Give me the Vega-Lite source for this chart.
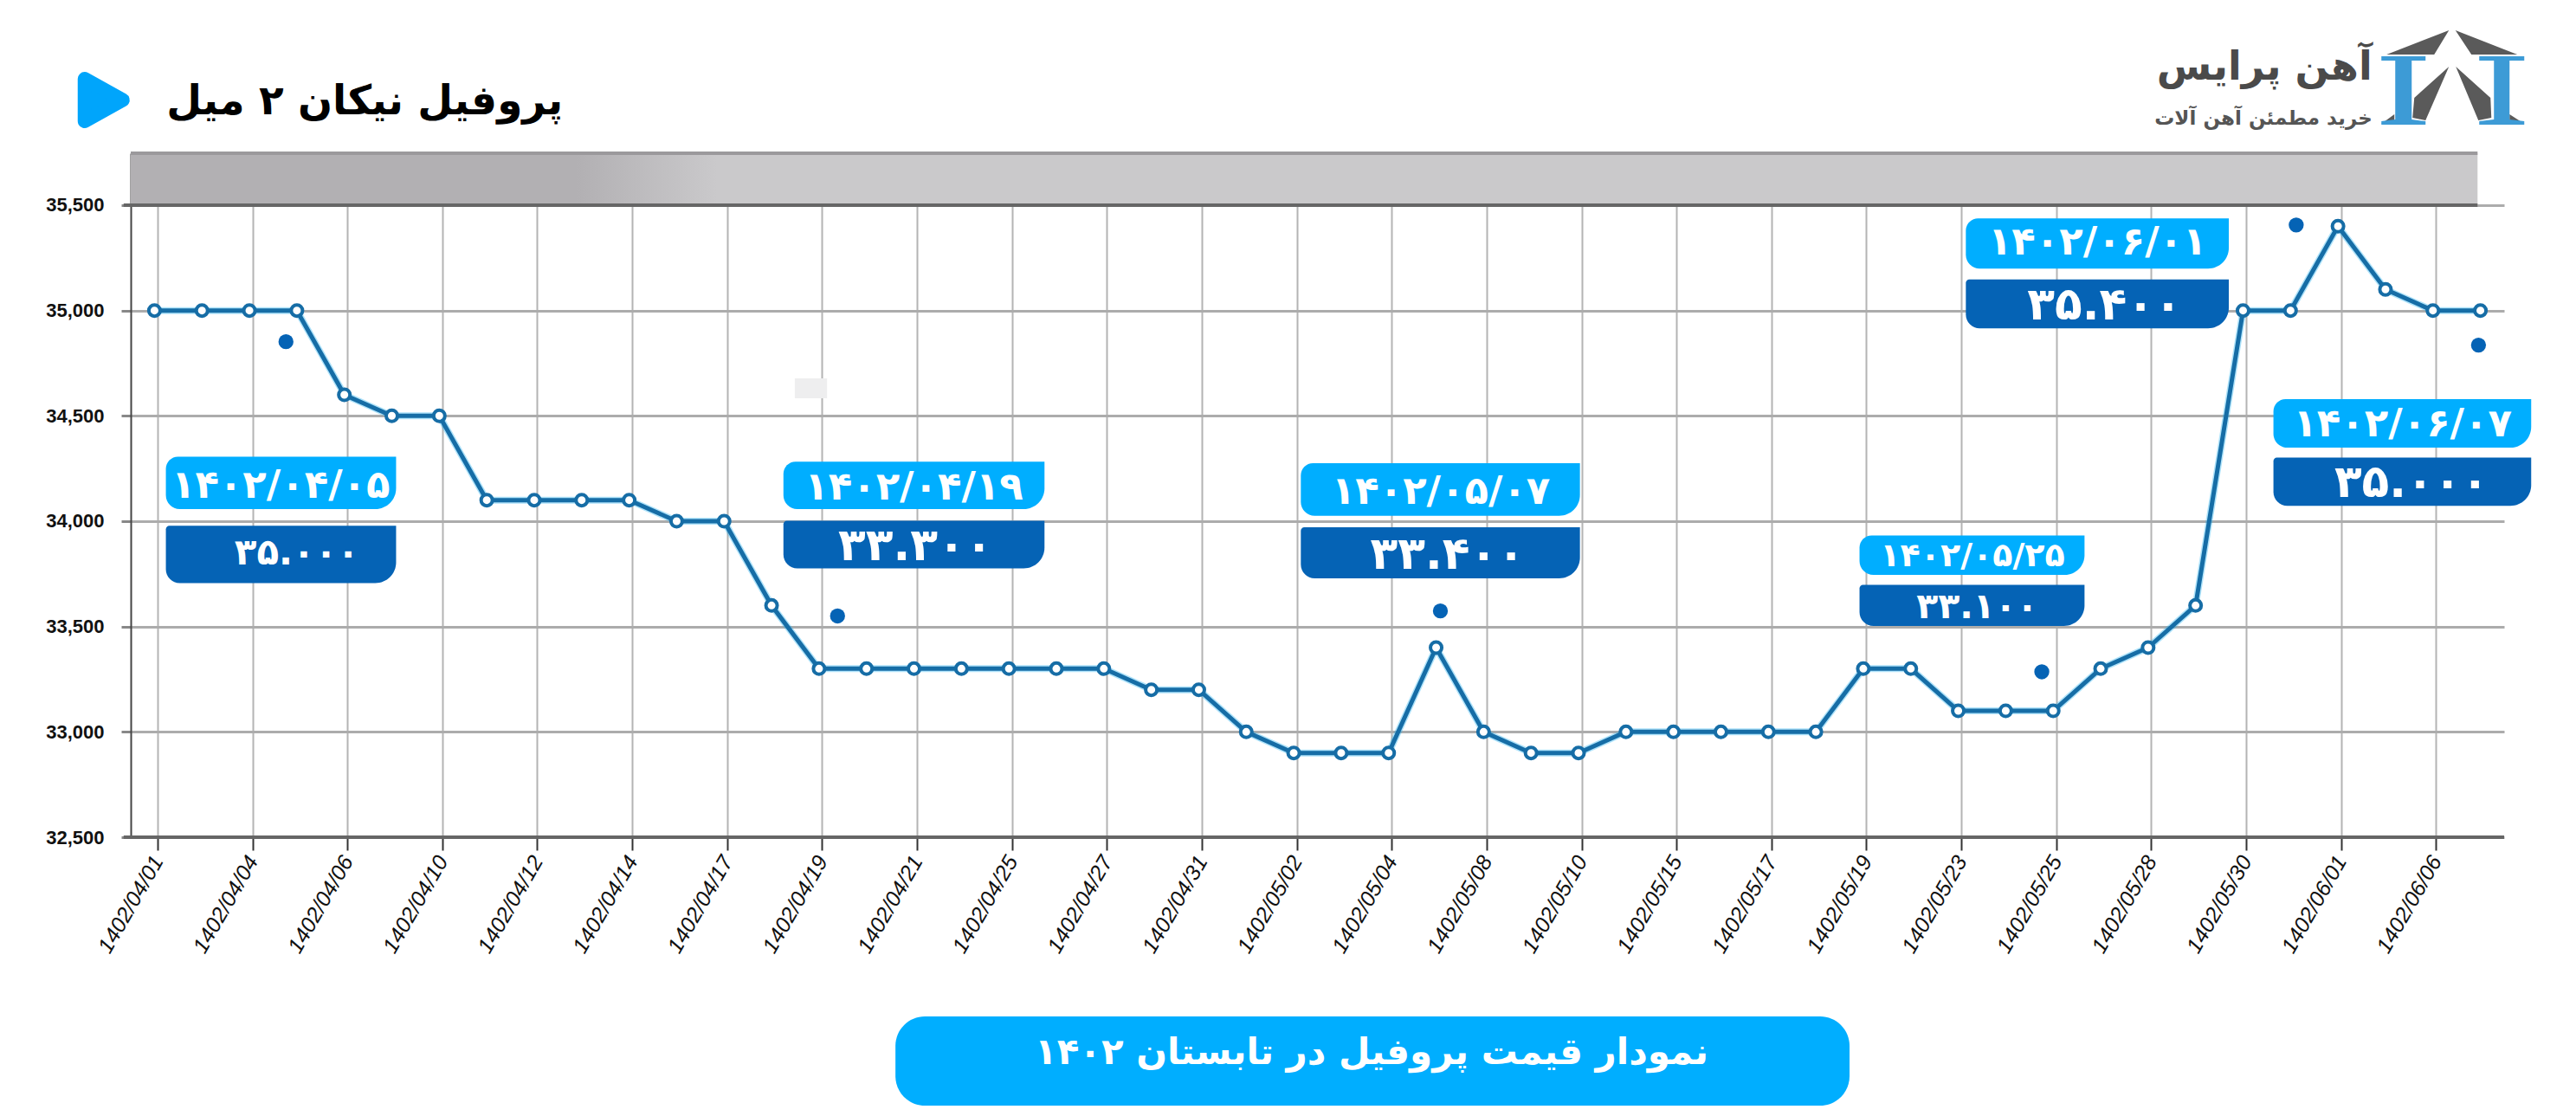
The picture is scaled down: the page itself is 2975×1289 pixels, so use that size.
{
"$schema":"https://vega.github.io/schema/vega-lite/v6.json",
"width":2741,"height":790,
"autosize":{"type":"none"},
"padding":{"left":151,"top":177,"right":83,"bottom":322},
"background":"#ffffff",
"config":{"view":{"stroke":null}},
"datasets":{
"prices":[
{"i":1,"date":"1402/04/01","price":35000},{"i":2,"date":"1402/04/03","price":35000},{"i":3,"date":"1402/04/04","price":35000},{"i":4,"date":"1402/04/05","price":35000},{"i":5,"date":"1402/04/06","price":34600},
{"i":6,"date":"1402/04/07","price":34500},{"i":7,"date":"1402/04/10","price":34500},{"i":8,"date":"1402/04/11","price":34100},{"i":9,"date":"1402/04/12","price":34100},{"i":10,"date":"1402/04/13","price":34100},
{"i":11,"date":"1402/04/14","price":34100},{"i":12,"date":"1402/04/15","price":34000},{"i":13,"date":"1402/04/17","price":34000},{"i":14,"date":"1402/04/18","price":33600},{"i":15,"date":"1402/04/19","price":33300},
{"i":16,"date":"1402/04/20","price":33300},{"i":17,"date":"1402/04/21","price":33300},{"i":18,"date":"1402/04/24","price":33300},{"i":19,"date":"1402/04/25","price":33300},{"i":20,"date":"1402/04/26","price":33300},
{"i":21,"date":"1402/04/27","price":33300},{"i":22,"date":"1402/04/28","price":33200},{"i":23,"date":"1402/04/31","price":33200},{"i":24,"date":"1402/05/01","price":33000},{"i":25,"date":"1402/05/02","price":32900},
{"i":26,"date":"1402/05/03","price":32900},{"i":27,"date":"1402/05/04","price":32900},{"i":28,"date":"1402/05/07","price":33400},{"i":29,"date":"1402/05/08","price":33000},{"i":30,"date":"1402/05/09","price":32900},
{"i":31,"date":"1402/05/10","price":32900},{"i":32,"date":"1402/05/14","price":33000},{"i":33,"date":"1402/05/15","price":33000},{"i":34,"date":"1402/05/16","price":33000},{"i":35,"date":"1402/05/17","price":33000},
{"i":36,"date":"1402/05/18","price":33000},{"i":37,"date":"1402/05/19","price":33300},{"i":38,"date":"1402/05/22","price":33300},{"i":39,"date":"1402/05/23","price":33100},{"i":40,"date":"1402/05/24","price":33100},
{"i":41,"date":"1402/05/25","price":33100},{"i":42,"date":"1402/05/26","price":33300},{"i":43,"date":"1402/05/28","price":33400},{"i":44,"date":"1402/05/29","price":33600},{"i":45,"date":"1402/05/30","price":35000},
{"i":46,"date":"1402/05/31","price":35000},{"i":47,"date":"1402/06/01","price":35400},{"i":48,"date":"1402/06/04","price":35100},{"i":49,"date":"1402/06/06","price":35000},{"i":50,"date":"1402/06/07","price":35000}
],
"callouts":[
{"name":"a","i0":1.24,"i1":6.09,"dtop":34306,"dbot":34057,"vtop":33978,"vbot":33706,"ic":3.66,"iv":4.0,"dc":34170,"vc":33848,"dateText":"۱۴۰۲/۰۴/۰۵","valueText":"۳۵.۰۰۰"},
{"name":"b","i0":14.25,"i1":19.75,"dtop":34283,"dbot":34057,"vtop":34002,"vbot":33776,"ic":17.0,"iv":17.03,"dc":34160,"vc":33880,"dateText":"۱۴۰۲/۰۴/۱۹","valueText":"۳۳.۳۰۰"},
{"name":"c","i0":25.15,"i1":31.03,"dtop":34275,"dbot":34026,"vtop":33971,"vbot":33729,"ic":28.1,"iv":28.24,"dc":34140,"vc":33840,"dateText":"۱۴۰۲/۰۵/۰۷","valueText":"۳۳.۴۰۰"},
{"name":"d","i0":36.92,"i1":41.66,"dtop":33932,"dbot":33745,"vtop":33698,"vbot":33503,"ic":39.3,"iv":39.4,"dc":33830,"vc":33590,"dateText":"۱۴۰۲/۰۵/۲۵","valueText":"۳۳.۱۰۰"},
{"name":"e","i0":39.16,"i1":44.70,"dtop":35437,"dbot":35199,"vtop":35148,"vbot":34915,"ic":41.93,"iv":42.08,"dc":35325,"vc":35025,"dateText":"۱۴۰۲/۰۶/۰۱","valueText":"۳۵.۴۰۰"},
{"name":"f","i0":45.64,"i1":51.07,"dtop":34579,"dbot":34349,"vtop":34302,"vbot":34073,"ic":48.36,"iv":48.55,"dc":34460,"vc":34180,"dateText":"۱۴۰۲/۰۶/۰۷","valueText":"۳۵.۰۰۰"}
],
"dots":[
{"i":3.77,"price":34852},{"i":15.39,"price":33550},{"i":28.09,"price":33574},{"i":40.76,"price":33285},{"i":46.12,"price":35406},{"i":49.96,"price":34836}
],
"frame":[{"i0":0.35,"i1":49.94,"price":35500},{"i0":0.35,"i1":50.5,"price":32500}]
},
"encoding":{
"x":{"type":"quantitative","scale":{"domain":[0.5,50.5],"nice":false,"zero":false},
"axis":{"title":null,"values":[1,3,5,7,9,11,13,15,17,19,21,23,25,27,29,31,33,35,37,39,41,43,45,47,49],
"labelExpr":"['1402/04/01','1402/04/04','1402/04/06','1402/04/10','1402/04/12','1402/04/14','1402/04/17','1402/04/19','1402/04/21','1402/04/25','1402/04/27','1402/04/31','1402/05/02','1402/05/04','1402/05/08','1402/05/10','1402/05/15','1402/05/17','1402/05/19','1402/05/23','1402/05/25','1402/05/28','1402/05/30','1402/06/01','1402/06/06'][(datum.value-1)/2]",
"labelAngle":-60,"labelAlign":"right","labelBaseline":"middle","labelFont":"Liberation Sans","labelFontStyle":"italic","labelFontSize":25,"labelColor":"#111111","labelPadding":8,"labelOverlap":false,"labelFlush":false,"labelBound":false,"tickOffset":3.5,"tickSize":15,"tickColor":"#333333","tickWidth":2,"grid":true,"gridColor":"#b4b4b4","gridWidth":2,"domain":false}},
"y":{"type":"quantitative","scale":{"domain":[32500,35746.5],"nice":false,"zero":false},
"axis":{"title":null,"values":[32500,33000,33500,34000,34500,35000,35500],"format":",.0f","labelFont":"Liberation Sans","labelFontWeight":"bold","labelFontSize":22,"labelColor":"#111111","labelPadding":20,"tickSize":11,"tickColor":"#888888","tickWidth":3,"grid":true,"gridColor":"#acacac","gridWidth":3,"domainColor":"#444444","domainWidth":2}}
},
"layer":[
{"data":{"name":"prices"},"mark":{"type":"line","color":"#1aaef0","strokeWidth":8,"opacity":0.35},
"encoding":{"x":{"field":"i"},"y":{"field":"price"}}},
{"data":{"values":[{"i0":0.5,"i1":49.94,"top":35746.5,"bottom":35500}]},
"mark":{"type":"rect","color":{"gradient":"linear","x1":0,"y1":0,"x2":1,"y2":0,"stops":[{"offset":0,"color":"#b2b0b3"},{"offset":0.19,"color":"#b2b0b3"},{"offset":0.25,"color":"#cac9cb"},{"offset":1,"color":"#cac9cb"}]}},
"encoding":{"x":{"field":"i0"},"x2":{"field":"i1"},"y":{"field":"top"},"y2":{"field":"bottom"}}},
{"data":{"values":[{"i0":0.5,"i1":49.94,"price":35746.5}]},"mark":{"type":"rule","color":"#9b999c","strokeWidth":4},
"encoding":{"x":{"field":"i0"},"x2":{"field":"i1"},"y":{"field":"price"}}},
{"data":{"name":"frame"},"mark":{"type":"rule","color":"#666666","strokeWidth":4},
"encoding":{"x":{"field":"i0"},"x2":{"field":"i1"},"y":{"field":"price"}}},
{"data":{"values":[{"i0":14.49,"i1":15.17,"top":34678,"bottom":34584}]},"mark":{"type":"rect","color":"#eeeeef"},
"encoding":{"x":{"field":"i0"},"x2":{"field":"i1"},"y":{"field":"top"},"y2":{"field":"bottom"}}},
{"data":{"name":"prices"},"mark":{"type":"line","color":"#166da6","strokeWidth":5},
"encoding":{"x":{"field":"i"},"y":{"field":"price"}}},
{"data":{"name":"prices"},"mark":{"type":"point","filled":true,"fill":"#ffffff","stroke":"#166da6","strokeWidth":4,"size":170,"opacity":1},
"encoding":{"x":{"field":"i"},"y":{"field":"price"}}},
{"data":{"name":"dots"},"mark":{"type":"point","filled":true,"fill":"#0563b5","size":300,"opacity":1},
"encoding":{"x":{"field":"i"},"y":{"field":"price"}}},
{"data":{"name":"callouts"},"mark":{"type":"rect","color":"#00aeff","cornerRadiusTopLeft":14,"cornerRadiusBottomLeft":16,"cornerRadiusBottomRight":24},
"encoding":{"x":{"field":"i0"},"x2":{"field":"i1"},"y":{"field":"dtop"},"y2":{"field":"dbot"}}},
{"data":{"name":"callouts"},"mark":{"type":"rect","color":"#0563b5","cornerRadiusTopLeft":4,"cornerRadiusBottomLeft":16,"cornerRadiusBottomRight":24},
"encoding":{"x":{"field":"i0"},"x2":{"field":"i1"},"y":{"field":"vtop"},"y2":{"field":"vbot"}}},
{"data":{"name":"callouts"},"transform":[{"filter":"datum.name!='d'"}],"mark":{"type":"text","font":"DejaVu Sans","fontWeight":"bold","fontSize":45,"color":"#ffffff","align":"center","baseline":"middle"},
"encoding":{"x":{"field":"ic"},"y":{"field":"dc"},"text":{"field":"dateText"}}},
{"data":{"name":"callouts"},"transform":[{"filter":"datum.name!='d' && datum.name!='a'"}],"mark":{"type":"text","font":"DejaVu Sans","fontWeight":"bold","fontSize":52,"color":"#ffffff","align":"center","baseline":"middle"},
"encoding":{"x":{"field":"iv"},"y":{"field":"vc"},"text":{"field":"valueText"}}},
{"data":{"name":"callouts"},"transform":[{"filter":"datum.name=='a'"}],"mark":{"type":"text","font":"DejaVu Sans","fontWeight":"bold","fontSize":42,"color":"#ffffff","align":"center","baseline":"middle"},
"encoding":{"x":{"field":"iv"},"y":{"field":"vc"},"text":{"field":"valueText"}}},
{"data":{"name":"callouts"},"transform":[{"filter":"datum.name=='d'"}],"mark":{"type":"text","font":"DejaVu Sans","fontWeight":"bold","fontSize":38,"color":"#ffffff","align":"center","baseline":"middle"},
"encoding":{"x":{"field":"ic"},"y":{"field":"dc"},"text":{"field":"dateText"}}},
{"data":{"name":"callouts"},"transform":[{"filter":"datum.name=='d'"}],"mark":{"type":"text","font":"DejaVu Sans","fontWeight":"bold","fontSize":41,"color":"#ffffff","align":"center","baseline":"middle"},
"encoding":{"x":{"field":"iv"},"y":{"field":"vc"},"text":{"field":"valueText"}}},
{"data":{"values":[{"i0":16.61,"i1":36.71,"top":31649,"bottom":31226}]},"mark":{"type":"rect","color":"#00aeff","cornerRadius":34},
"encoding":{"x":{"field":"i0"},"x2":{"field":"i1"},"y":{"field":"top"},"y2":{"field":"bottom"}}},
{"data":{"values":[{"i":26.64,"price":31477,"label":"نمودار قیمت پروفیل در تابستان ۱۴۰۲"}]},"mark":{"type":"text","font":"DejaVu Sans","fontWeight":"bold","fontSize":42,"color":"#ffffff","align":"center","baseline":"middle"},
"encoding":{"x":{"field":"i"},"y":{"field":"price"},"text":{"field":"label"}}},
{"data":{"values":[{"i":5.43,"price":35989,"label":"پروفیل نیکان ۲ میل"}]},"mark":{"type":"text","font":"DejaVu Sans","fontWeight":"bold","fontSize":47,"color":"#000000","align":"center","baseline":"middle"},
"encoding":{"x":{"field":"i"},"y":{"field":"price"},"text":{"field":"label"}}},
{"data":{"values":[{"i":-0.07,"price":36001}]},"mark":{"type":"point","filled":true,"shape":"M-22,-24L22,0.5L-22,25Z","size":4,"fill":"#00a5fb","stroke":"#00a5fb","strokeWidth":16,"strokeJoin":"round","opacity":1},
"encoding":{"x":{"field":"i"},"y":{"field":"price"}}},
{"data":{"values":[{"i":49.41,"price":36108}]},"mark":{"type":"point","filled":true,"shape":"M-4,-54L-76,-26L-21,-26ZM3.5,-54L75,-26L22,-26ZM-4,-12L-44,24L-46,47L-31,50ZM4,-12L44,24L45,47L30,50ZM-82,54L-67,43L-67,54ZM83,54L66,43L66,54Z","size":4,"fill":"#5a5a5a","opacity":1},
"encoding":{"x":{"field":"i"},"y":{"field":"price"}}},
{"data":{"values":[{"i":49.41,"price":36108}]},"mark":{"type":"point","filled":true,"shape":"M-82,-24L-31,-24L-31,-19L-47,-19L-47,49L-31,51L-31,55L-82,55L-82,51L-66,49L-66,-19L-82,-19ZM31,-24L83,-24L83,-19L66,-19L66,49L83,51L83,55L31,55L31,51L48,49L48,-19L31,-19Z","size":4,"fill":"#3d9bd6","opacity":1},
"encoding":{"x":{"field":"i"},"y":{"field":"price"}}},
{"data":{"values":[{"i":45.45,"price":36153,"label":"آهن پرایس"}]},"mark":{"type":"text","font":"DejaVu Sans","fontWeight":"bold","fontSize":46,"color":"#4a4a4a","align":"center","baseline":"middle"},
"encoding":{"x":{"field":"i"},"y":{"field":"price"},"text":{"field":"label"}}},
{"data":{"values":[{"i":45.43,"price":35911,"label":"خرید مطمئن آهن آلات"}]},"mark":{"type":"text","font":"DejaVu Sans","fontSize":23,"fontWeight":"bold","color":"#555555","align":"center","baseline":"middle"},
"encoding":{"x":{"field":"i"},"y":{"field":"price"},"text":{"field":"label"}}}
]
}
